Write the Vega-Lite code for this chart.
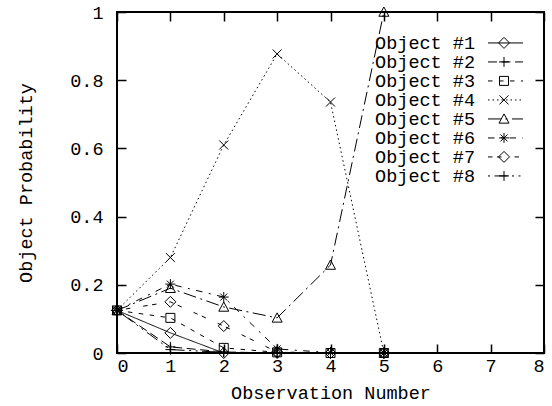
{
  "$schema": "https://vega.github.io/schema/vega-lite/v6.json",
  "width": 427,
  "height": 341,
  "autosize": "none",
  "padding": {"left": 117, "top": 12, "right": 8, "bottom": 53},
  "background": "white",
  "config": {
    "view": {"stroke": "black", "strokeWidth": 2},
    "font": "Liberation Mono",
    "axis": {
      "labelFont": "Liberation Mono", "labelFontSize": 18.5, "labelColor": "black",
      "titleFont": "Liberation Mono", "titleFontSize": 18.5, "titleFontWeight": "normal", "titleColor": "black",
      "domain": false, "ticks": false, "tickSize": 0,
      "grid": true, "gridColor": "black", "gridOpacity": 1, "gridWidth": 1.5
    }
  },
  "data": {"values": [
    {"obs": 0, "prob": 0.125, "object": "Object #1"},
    {"obs": 1, "prob": 0.059, "object": "Object #1"},
    {"obs": 2, "prob": 0.0, "object": "Object #1"},
    {"obs": 3, "prob": 0.0, "object": "Object #1"},
    {"obs": 4, "prob": 0.0, "object": "Object #1"},
    {"obs": 5, "prob": 0.0, "object": "Object #1"},
    {"obs": 0, "prob": 0.125, "object": "Object #2"},
    {"obs": 1, "prob": 0.018, "object": "Object #2"},
    {"obs": 2, "prob": 0.003, "object": "Object #2"},
    {"obs": 3, "prob": 0.0, "object": "Object #2"},
    {"obs": 4, "prob": 0.0, "object": "Object #2"},
    {"obs": 5, "prob": 0.0, "object": "Object #2"},
    {"obs": 0, "prob": 0.125, "object": "Object #3"},
    {"obs": 1, "prob": 0.103, "object": "Object #3"},
    {"obs": 2, "prob": 0.015, "object": "Object #3"},
    {"obs": 3, "prob": 0.002, "object": "Object #3"},
    {"obs": 4, "prob": 0.0, "object": "Object #3"},
    {"obs": 5, "prob": 0.0, "object": "Object #3"},
    {"obs": 0, "prob": 0.125, "object": "Object #4"},
    {"obs": 1, "prob": 0.28, "object": "Object #4"},
    {"obs": 2, "prob": 0.61, "object": "Object #4"},
    {"obs": 3, "prob": 0.877, "object": "Object #4"},
    {"obs": 4, "prob": 0.736, "object": "Object #4"},
    {"obs": 5, "prob": 0.0, "object": "Object #4"},
    {"obs": 0, "prob": 0.125, "object": "Object #5"},
    {"obs": 1, "prob": 0.19, "object": "Object #5"},
    {"obs": 2, "prob": 0.135, "object": "Object #5"},
    {"obs": 3, "prob": 0.103, "object": "Object #5"},
    {"obs": 4, "prob": 0.258, "object": "Object #5"},
    {"obs": 5, "prob": 1.0, "object": "Object #5"},
    {"obs": 0, "prob": 0.125, "object": "Object #6"},
    {"obs": 1, "prob": 0.202, "object": "Object #6"},
    {"obs": 2, "prob": 0.164, "object": "Object #6"},
    {"obs": 3, "prob": 0.012, "object": "Object #6"},
    {"obs": 4, "prob": 0.001, "object": "Object #6"},
    {"obs": 5, "prob": 0.0, "object": "Object #6"},
    {"obs": 0, "prob": 0.125, "object": "Object #7"},
    {"obs": 1, "prob": 0.15, "object": "Object #7"},
    {"obs": 2, "prob": 0.079, "object": "Object #7"},
    {"obs": 3, "prob": 0.003, "object": "Object #7"},
    {"obs": 4, "prob": 0.0, "object": "Object #7"},
    {"obs": 5, "prob": 0.0, "object": "Object #7"},
    {"obs": 0, "prob": 0.125, "object": "Object #8"},
    {"obs": 1, "prob": 0.01, "object": "Object #8"},
    {"obs": 2, "prob": 0.002, "object": "Object #8"},
    {"obs": 3, "prob": 0.0, "object": "Object #8"},
    {"obs": 4, "prob": 0.0, "object": "Object #8"},
    {"obs": 5, "prob": 0.0, "object": "Object #8"}
  ]},
  "layer": [
    {
      "mark": {"type": "line", "stroke": "black", "strokeWidth": 1},
      "encoding": {
        "x": {"field": "obs", "type": "quantitative", "scale": {"domain": [0, 8], "nice": false},
              "axis": {"orient": "bottom", "values": [0, 1, 2, 3, 4, 5, 6, 7, 8], "format": "~g", "title": "Observation Number",
                       "labelPadding": 3, "titlePadding": 9, "gridDash": [9, 323, 9, 1000]}},
        "y": {"field": "prob", "type": "quantitative", "scale": {"domain": [0, 1], "nice": false},
              "axis": {"orient": "left", "values": [0, 0.2, 0.4, 0.6, 0.8, 1], "format": "~g", "title": "Object Probability",
                       "labelPadding": 14, "titlePadding": 34, "gridDash": [9, 409, 9, 1000]}},
        "strokeDash": {"field": "object", "type": "nominal",
          "scale": {"domain": ["Object #1", "Object #2", "Object #3", "Object #4", "Object #5", "Object #6", "Object #7", "Object #8"],
                    "range": [[1, 0], [9, 4.5], [4.5, 6.5], [1.5, 3], [13, 4.5, 2, 4.5], [6.5, 6.5, 2, 6.5], [4.5, 4.5, 4.5, 13], [2, 4.5, 13, 4.5, 2, 4.5]]},
          "legend": {"orient": "none", "legendX": 370.5, "legendY": 21.65, "padding": 0, "title": null,
                     "symbolType": "stroke", "symbolSize": 1225, "symbolStrokeColor": "black", "symbolStrokeWidth": 1,
                     "labelFont": "Liberation Mono", "labelFontSize": 18.5, "labelExpr": "''",
                     "clipHeight": 18.6, "rowPadding": 0}}
      }
    },
    {
      "mark": {"type": "point", "filled": false, "stroke": "black", "strokeWidth": 1, "size": 100, "opacity": 1},
      "encoding": {
        "x": {"field": "obs", "type": "quantitative"},
        "y": {"field": "prob", "type": "quantitative"},
        "shape": {"field": "object", "type": "nominal",
          "scale": {"range": [
            "M0,-1.1L1.1,0L0,1.1L-1.1,0Z",
            "M-1,0H1M0,-1V1",
            "M-0.9,-0.9H0.9V0.9H-0.9Z",
            "M-0.9,-0.9L0.9,0.9M-0.9,0.9L0.9,-0.9",
            "M-1,0.85L0,-1L1,0.85Z",
            "M-1,0H1M0,-1V1M-0.7,-0.7L0.7,0.7M-0.7,0.7L0.7,-0.7",
            "M0,-1.1L1.1,0L0,1.1L-1.1,0Z",
            "M-1,0H1M0,-1V1"
          ]},
          "legend": {"orient": "none", "legendX": 377.75, "legendY": 21.65, "padding": 0, "title": null,
                     "symbolSize": 100, "symbolStrokeColor": "black", "symbolStrokeWidth": 1, "symbolOpacity": 1,
                     "labelFont": "Liberation Mono", "labelFontSize": 18.5, "labelColor": "black",
                     "labelAlign": "right", "labelOffset": -38.25, "labelBaseline": "middle",
                     "rowPadding": 0}}
      }
    }
  ]
}
